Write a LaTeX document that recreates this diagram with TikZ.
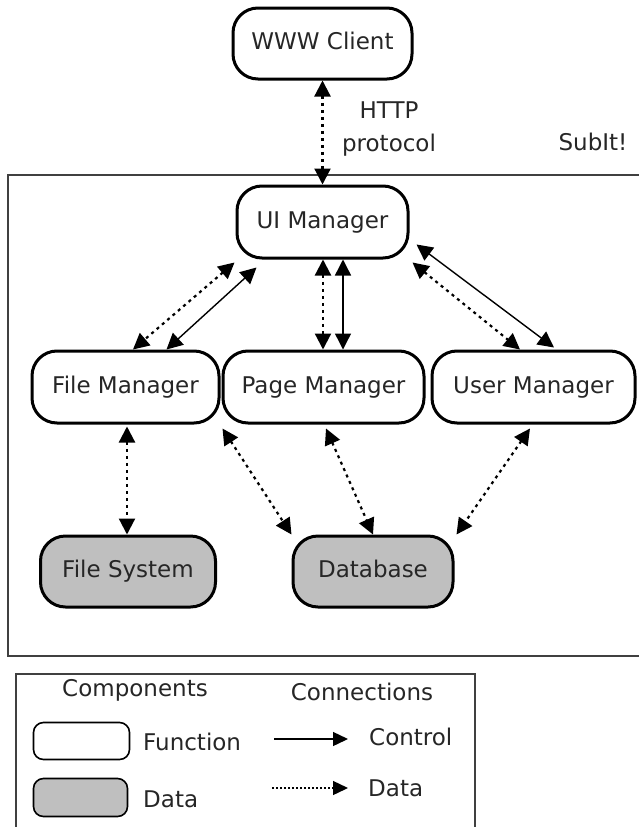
\documentclass[tikz,border=0pt]{standalone}
\usepackage{fontspec}
\setmainfont{DejaVu Sans}
\usetikzlibrary{arrows.meta}
\begin{document}
\begin{tikzpicture}[x=1pt,y=-1pt,
  every node/.style={font=\fontsize{23}{27}\selectfont, text=black!85},
  comp/.style={draw=black, line width=3pt, rounded corners=25pt, inner sep=0pt, fill=white, text height=17pt, text depth=5pt},
  datacomp/.style={comp, fill=gray!50},
  lgcomp/.style={draw=black, line width=1.6pt, rounded corners=10pt, inner sep=0pt, fill=white},
  tri/.style={{Triangle[length=16pt,width=16pt]}-{Triangle[length=16pt,width=16pt]}},
  ctrl/.style={tri, line width=1.4pt},
  dat/.style={tri, line width=2.2pt, dash pattern=on 3pt off 4pt},
  lbl/.style={inner sep=0pt}
]
\useasboundingbox (0,0) rectangle (638,827);
% frames
\draw[line width=2pt, draw=black!75] (8,175) rectangle (650,656);
\draw[line width=1.5pt, draw=black!75] (16,674) rectangle (475,840);
% nodes
\node[comp, minimum width=179pt, minimum height=71pt] (www) at (322.5,43.5) {WWW Client};
\node[comp, minimum width=171pt, minimum height=72pt] (ui) at (322.5,222) {UI Manager};
\node[comp, minimum width=187pt, minimum height=72pt] (fm) at (125.5,387) {File Manager};
\node[comp, minimum width=201pt, minimum height=72pt] (pm) at (323.5,387) {Page Manager};
\node[comp, minimum width=203pt, minimum height=72pt] (um) at (533.5,387) {User Manager};
\node[datacomp, minimum width=175pt, minimum height=71pt] (fs) at (128,571.5) {File System};
\node[datacomp, minimum width=160pt, minimum height=71pt] (db) at (373,571.5) {Database};
% labels
\node[lbl, align=center] (http) at (389,129) {HTTP\\[6pt]protocol};
\node[lbl] (subit) at (593,142) {SubIt!};
% connectors
\draw[dat] (www.south) -- (ui.north);
\draw[dat] ([xshift=-1pt,yshift=-3pt]ui.south west) -- ([xshift=7.5pt]fm.north);
\draw[ctrl] ([xshift=21pt,yshift=-8pt]ui.south west) -- ([xshift=41pt]fm.north);
\draw[dat] ([xshift=0.5pt]ui.south) -- ([xshift=-0.5pt]pm.north);
\draw[ctrl] ([xshift=20.5pt]ui.south) -- ([xshift=19.5pt]pm.north);
\draw[ctrl] ([xshift=7pt,yshift=15pt]ui.south east) -- ([xshift=20.5pt,yshift=2pt]um.north);
\draw[dat] ([xshift=3pt,yshift=-3pt]ui.south east) -- ([xshift=-13.5pt]um.north);
\draw[dat] ([xshift=1.5pt,yshift=-2pt]fm.south) -- ([xshift=-1pt]fs.north);
\draw[dat] ([xshift=1pt,yshift=-4pt]pm.south west) -- (db.north west);
\draw[dat] ([xshift=2.5pt,yshift=-4pt]pm.south) -- (db.north);
\draw[dat] ([xshift=-3.5pt,yshift=-4pt]um.south) -- ([xshift=2pt]db.north east);
% legend
\node[lbl] (lcomp) at (135,690) {Components};
\node[lbl] (lconn) at (362,692) {Connections};
\node[lgcomp, minimum width=96pt, minimum height=37pt] (lf) at (81.5,741) {};
\node[lgcomp, fill=gray!50, minimum width=94pt, minimum height=38pt] (ld) at (80.5,797.5) {};
\node[lbl, anchor=west] (lft) at (143,742) {Function};
\node[lbl, anchor=west] (ldt) at (143,799) {Data};
\coordinate (ca) at (274,739);
\coordinate (cb) at (348,739);
\coordinate (da) at (272,788);
\coordinate (db2) at (348,788);
\draw[line width=1.4pt, -{Triangle[length=15pt,width=14pt]}] (ca) -- (cb);
\draw[line width=1.4pt, dash pattern=on 2pt off 2pt, -{Triangle[length=15pt,width=14pt]}] (da) -- (db2);
\node[lbl, anchor=west] (lct) at (369,737) {Control};
\node[lbl, anchor=west] (ldd) at (368,788) {Data};
\end{tikzpicture}
\end{document}
